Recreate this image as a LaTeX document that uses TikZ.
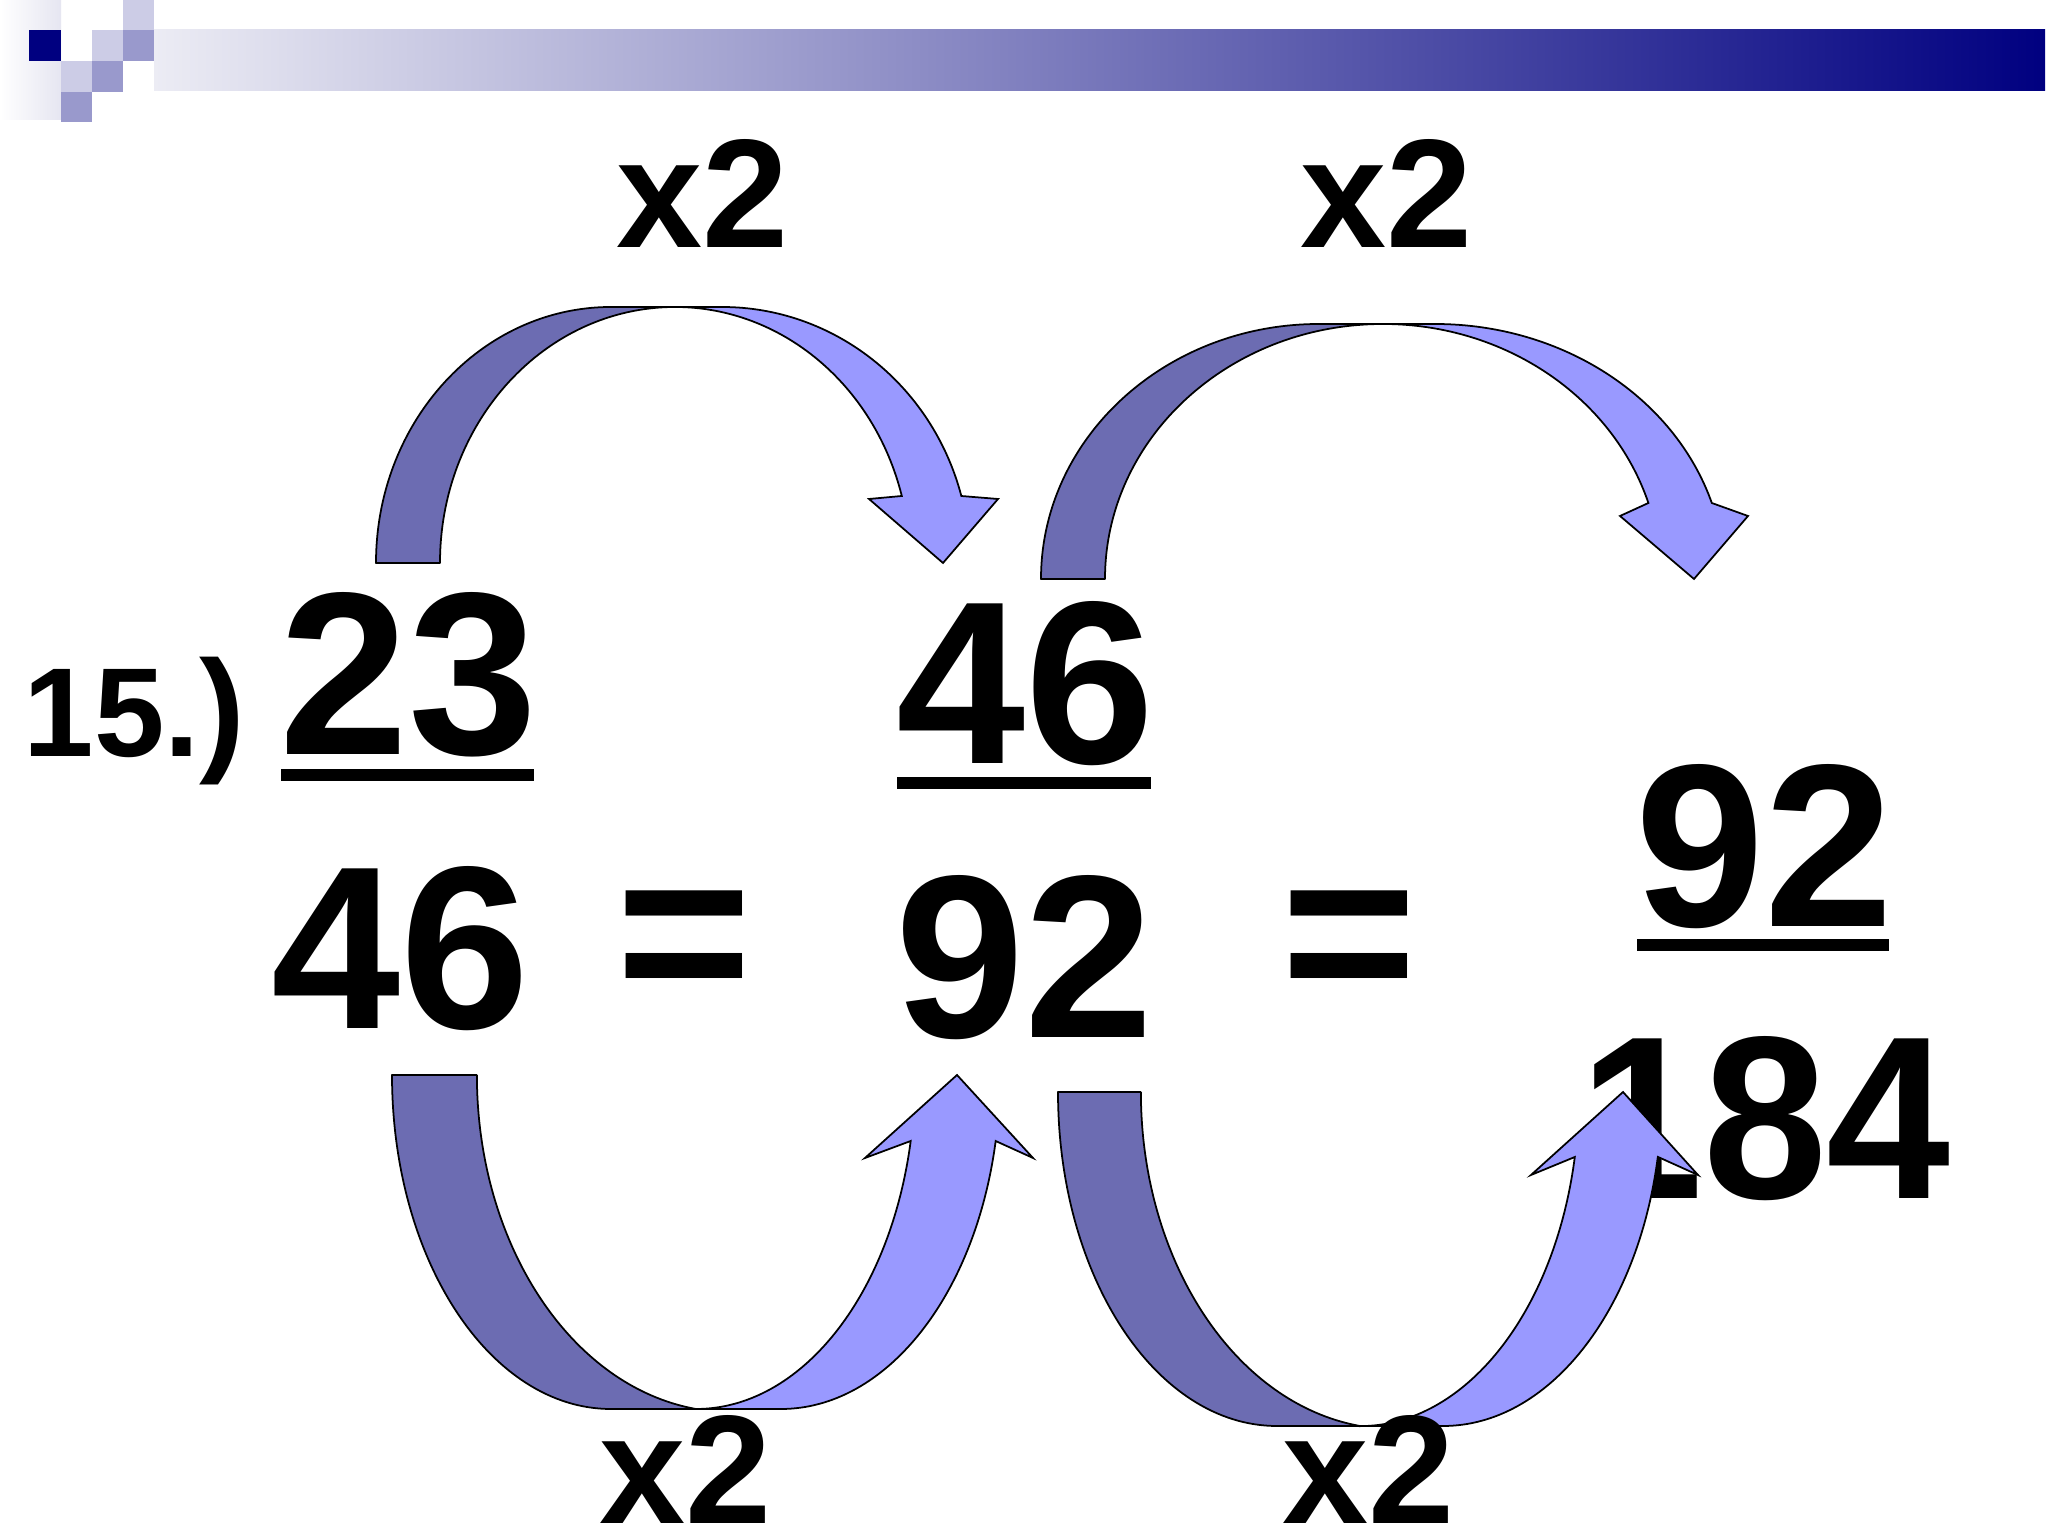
\documentclass[tikz,border=0pt]{standalone}
\usepackage{fontspec}
\usepackage{graphicx}
\setmainfont{Liberation Sans}
\definecolor{navyc}{RGB}{0,0,128}
\definecolor{sqlight}{RGB}{204,204,230}
\definecolor{sqmed}{RGB}{153,153,204}
\definecolor{bandstart}{RGB}{236,236,244}
\definecolor{darkarrow}{RGB}{108,108,178}
\definecolor{lightarrow}{RGB}{153,153,255}
\tikzset{
  num/.style={font=\fontsize{66}{66}\selectfont\bfseries, anchor=base, inner sep=0pt},
  times/.style={font=\fontsize{44}{44}\selectfont\bfseries, anchor=base, inner sep=0pt},
  darkpart/.style={fill=darkarrow, draw=black, line width=0.5pt, line join=round},
  lightpart/.style={fill=lightarrow, draw=black, line width=0.5pt, line join=miter},
  ubar/.style={fill=black, draw=none}
}
\begin{document}
\begin{tikzpicture}[x=0.01cm, y=0.01cm]
\useasboundingbox (0,0) rectangle (2048,1536);
\fill[white] (0,0) rectangle (2048,1536);
% header decoration
\shade[left color=white, right color=bandstart!80!sqlight] (0,1416) rectangle (61,1536);
\shade[left color=bandstart, right color=navyc] (154,1445) rectangle (2045,1506);
\fill[navyc] (29,1475) rectangle (61,1506);
\fill[sqlight] (123,1506) rectangle (154,1536);
\fill[sqlight] (92,1475) rectangle (123,1506);
\fill[sqmed] (123,1475) rectangle (154,1506);
\fill[sqlight] (61,1444) rectangle (92,1475);
\fill[sqmed] (92,1444) rectangle (123,1475);
\fill[sqmed] (61,1414) rectangle (92,1444);
% numbers
\node[font=\fontsize{36}{36}\selectfont\bfseries, anchor=base west, inner sep=0pt] (lbl) at (23,779) {15.};
\node[font=\fontsize{39}{39}\selectfont\bfseries, anchor=base, inner sep=0pt] (paren) at (222,779) {)};
\node[num] (a23) at (409,781) {23};
\fill[ubar] (281,755) rectangle (534,767);
\node[num] (a46) at (401,507) {46};
\node[num] (eq1) at (684,524) {=};
\node[num] (b46) at (1026,772) {46};
\fill[ubar] (897,747) rectangle (1151,759);
\node[num] (b92) at (1025,498) {92};
\node[num] (eq2) at (1349,524) {=};
\node[num] (c92) at (1765,609) {92};
\fill[ubar] (1637,585) rectangle (1889,597);
\node[num] (c184) at (1765,337) {\scalebox{0.96}[1]{184}};
% top-left arrow
\filldraw[darkpart] (376,973) arc[start angle=180,end angle=90,x radius=235,y radius=256]
  -- (675,1229) arc[start angle=90,end angle=180,x radius=235,y radius=256] -- cycle;
\filldraw[lightpart] (675,1229) -- (722,1229) arc[start angle=90,end angle=15.17,x radius=248,y radius=256]
  -- (998,1037) -- (943,973) -- (869,1037) -- (901.8,1040)
  arc[start angle=15.17,end angle=90,x radius=235,y radius=256] -- cycle;
% top-right arrow
\filldraw[darkpart] (1041,957) arc[start angle=180,end angle=90,x radius=278,y radius=255]
  -- (1383,1212) arc[start angle=90,end angle=180,x radius=278,y radius=255] -- cycle;
\filldraw[lightpart] (1383,1212) -- (1435,1212) arc[start angle=90,end angle=17.34,x radius=290,y radius=255]
  -- (1748,1020) -- (1694,957) -- (1620,1020) -- (1648.4,1033)
  arc[start angle=17.34,end angle=90,x radius=278,y radius=255] -- cycle;
% bottom-left arrow
\filldraw[darkpart] (392,461) arc[start angle=180,end angle=270,x radius=219,y radius=334]
  -- (696,127) arc[start angle=262.3,end angle=180,x radius=253,y radius=337] -- cycle;
\filldraw[lightpart] (696,127) -- (781,127) arc[start angle=270,end angle=348.6,x radius=219,y radius=334]
  -- (1033,378) -- (957,461) -- (865,378) -- (910.7,395)
  arc[start angle=348.6,end angle=270,x radius=219,y radius=334] -- cycle;
% bottom-right arrow
\filldraw[darkpart] (1058,444) arc[start angle=180,end angle=270,x radius=219,y radius=334]
  -- (1360,110) arc[start angle=262.3,end angle=180,x radius=253,y radius=337] -- cycle;
\filldraw[lightpart] (1360,110) -- (1443,110) arc[start angle=270,end angle=348.8,x radius=219,y radius=334]
  -- (1698,361) -- (1623,444) -- (1531,361) -- (1574.8,379)
  arc[start angle=348.8,end angle=270,x radius=219,y radius=334] -- cycle;
% multiplier labels
\node[times] (t1) at (703,1288) {x2};
\node[times] (t2) at (1387,1288) {x2};
\node[times] (t3) at (686,12) {x2};
\node[times] (t4) at (1369,12) {x2};
\end{tikzpicture}
\end{document}
